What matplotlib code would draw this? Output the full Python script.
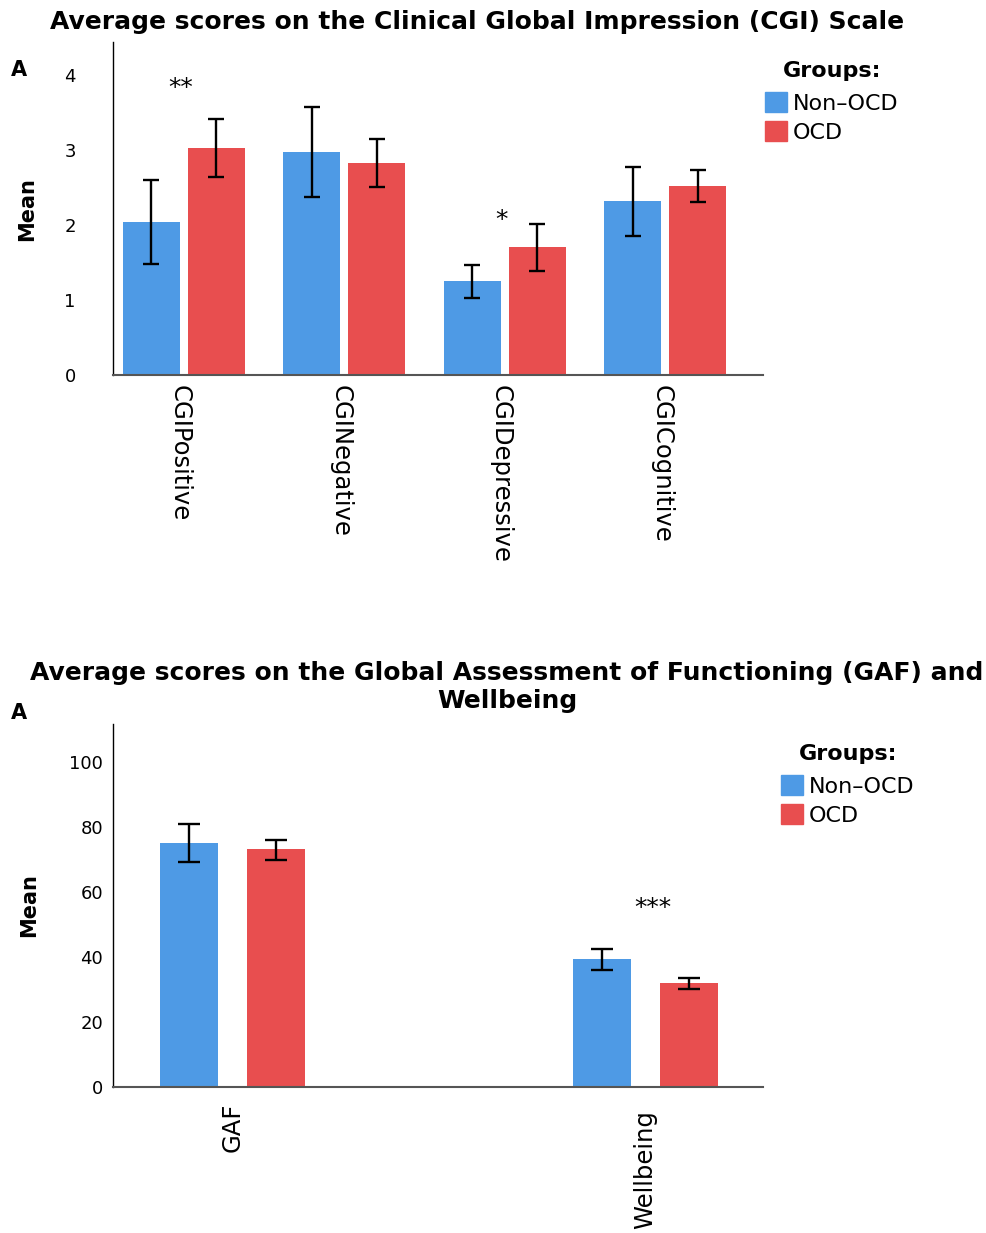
import matplotlib
matplotlib.use("Agg")
import matplotlib.pyplot as plt
import matplotlib.transforms as mtransforms
import numpy as np
from matplotlib.patches import Patch

plt.rcParams['font.family'] = ['DejaVu Sans']

# Datos CGI
cgi_categorias = ["CGIPositive", "CGINegative", "CGIDepressive", "CGICognitive"]
cgi_no_toc = [2.04, 2.97, 1.25, 2.32]
cgi_no_toc_inf = [1.48, 2.37, 1.03, 1.85]
cgi_no_toc_sup = [2.60, 3.57, 1.47, 2.77]
cgi_toc = [3.03, 2.83, 1.71, 2.52]
cgi_toc_inf = [2.64, 2.51, 1.39, 2.31]
cgi_toc_sup = [3.41, 3.15, 2.01, 2.73]
cgi_signif = ["**", "", "*", ""]
cgi_signif_y = [3.83, 0, 2.07, 0]

# Datos GAF / Wellbeing
gaf_categorias = ["GAF", "Wellbeing"]
gaf_no_toc = [75.1, 39.4]
gaf_no_toc_inf = [69.2, 36.0]
gaf_no_toc_sup = [80.9, 42.5]
gaf_toc = [73.2, 32.0]
gaf_toc_inf = [69.8, 30.2]
gaf_toc_sup = [76.0, 33.5]
gaf_signif = ["", "***"]
gaf_signif_y = [0, 55.1]

grupos = ["Non–OCD", "OCD"]
azul = "#4e9ae5"
rojo = "#e84e4f"

fig = plt.figure(figsize=(9.87, 12.33), dpi=100)
W, H = 987, 1233


def px_ax(izq, arriba, der, abajo):
    return [izq / W, 1 - abajo / H, (der - izq) / W, (abajo - arriba) / H]


def dibujar(ax, categorias, v1, i1, s1, v2, i2, s2, ancho, desp, capsize):
    x = np.arange(len(categorias))
    v1, v2 = np.array(v1), np.array(v2)
    err1 = [v1 - np.array(i1), np.array(s1) - v1]
    err2 = [v2 - np.array(i2), np.array(s2) - v2]
    ax.bar(x - desp, v1, width=ancho, color=azul, zorder=2)
    ax.bar(x + desp, v2, width=ancho, color=rojo, zorder=2)
    ek = dict(ecolor="black", elinewidth=1.7, capthick=1.7, capsize=capsize, fmt="none", zorder=3)
    ax.errorbar(x - desp, v1, yerr=err1, **ek)
    ax.errorbar(x + desp, v2, yerr=err2, **ek)
    for s in ["top", "right"]:
        ax.spines[s].set_visible(False)
    ax.spines["left"].set_color("black")
    ax.spines["left"].set_linewidth(1.0)
    ax.spines["bottom"].set_color("#555555")
    ax.spines["bottom"].set_linewidth(1.5)
    ax.tick_params(length=0)
    return x


def leyenda(x, y):
    manijas = [Patch(color=azul, label=grupos[0]), Patch(color=rojo, label=grupos[1])]
    ley = fig.legend(handles=manijas, loc="upper left", bbox_to_anchor=(x / W, 1 - y / H),
                     frameon=False, fontsize=16, title="Groups:", borderpad=0,
                     handlelength=1.0, handleheight=1.0, handletextpad=0.25,
                     labelspacing=0.33)
    ley.get_title().set_fontweight("bold")
    ley.get_title().set_fontsize(16)
    ley._legend_box.sep = 8
    return ley


# Grafico superior
ax1 = fig.add_axes(px_ax(113, 42, 763, 375))
x1 = dibujar(ax1, cgi_categorias, cgi_no_toc, cgi_no_toc_inf, cgi_no_toc_sup,
             cgi_toc, cgi_toc_inf, cgi_toc_sup, 0.355, 0.2025, 6)
ax1.set_xlim(-0.442, 3.61)
ax1.set_ylim(0, 4.44)
ax1.set_yticks([0, 1, 2, 3, 4])
ax1.tick_params(axis="y", labelsize=13)
for t in ax1.get_yticklabels():
    t.set_horizontalalignment("left")
ax1.yaxis.set_tick_params(pad=35)
ax1.set_xticks(x1)
ax1.set_xticklabels(cgi_categorias, rotation=270, fontsize=17.5, va="top", ha="center")
ax1.tick_params(axis="x", pad=7)
corrimiento = mtransforms.ScaledTranslation(-4 / 100, 0, fig.dpi_scale_trans)
for t in ax1.get_xticklabels():
    t.set_transform(t.get_transform() + corrimiento)
for xi, s, y in zip(x1, cgi_signif, cgi_signif_y):
    if s:
        ax1.text(xi - 0.02, y, s, ha="center", va="center", fontsize=18)

fig.text(477 / W, 1 - 22 / H, "Average scores on the Clinical Global Impression (CGI) Scale",
         ha="center", va="center", fontsize=18, fontweight="bold")
fig.text(19 / W, 1 - 70 / H, "A", ha="center", va="center", fontsize=15, fontweight="bold")
fig.text(27 / W, 1 - 209 / H, "Mean", ha="center", va="center", rotation=90,
         fontsize=15, fontweight="bold")

leyenda(754, 50)

# Grafico inferior
ax2 = fig.add_axes(px_ax(113, 724, 763, 1087))
x2 = dibujar(ax2, gaf_categorias, gaf_no_toc, gaf_no_toc_inf, gaf_no_toc_sup,
             gaf_toc, gaf_toc_inf, gaf_toc_sup, 0.1406, 0.1055, 8)
ax2.set_xlim(-0.29, 1.286)
ax2.set_ylim(0, 111.7)
ax2.set_yticks([0, 20, 40, 60, 80, 100])
ax2.tick_params(axis="y", labelsize=13, pad=7)
ax2.set_xticks(x2)
ax2.set_xticklabels([])
for xi, nombre, off in zip(x2, gaf_categorias, [16, 23]):
    ax2.annotate(nombre, xy=(xi, 0), xycoords=("data", "axes fraction"),
                 xytext=(0, -off * 0.72), textcoords="offset points",
                 rotation=90, ha="center", va="top", fontsize=17.5)
for xi, s, y in zip(x2, gaf_signif, gaf_signif_y):
    if s:
        ax2.text(xi + 0.02, y, s, ha="center", va="center", fontsize=18)

fig.text(507 / W, 1 - 673 / H, "Average scores on the Global Assessment of Functioning (GAF) and",
         ha="center", va="center", fontsize=18, fontweight="bold")
fig.text(507 / W, 1 - 701 / H, "Wellbeing", ha="center", va="center", fontsize=18, fontweight="bold")
fig.text(19 / W, 1 - 713 / H, "A", ha="center", va="center", fontsize=15, fontweight="bold")
fig.text(29 / W, 1 - 905 / H, "Mean", ha="center", va="center", rotation=90,
         fontsize=15, fontweight="bold")

leyenda(770, 733)

fig.savefig("out.png", dpi=100)
